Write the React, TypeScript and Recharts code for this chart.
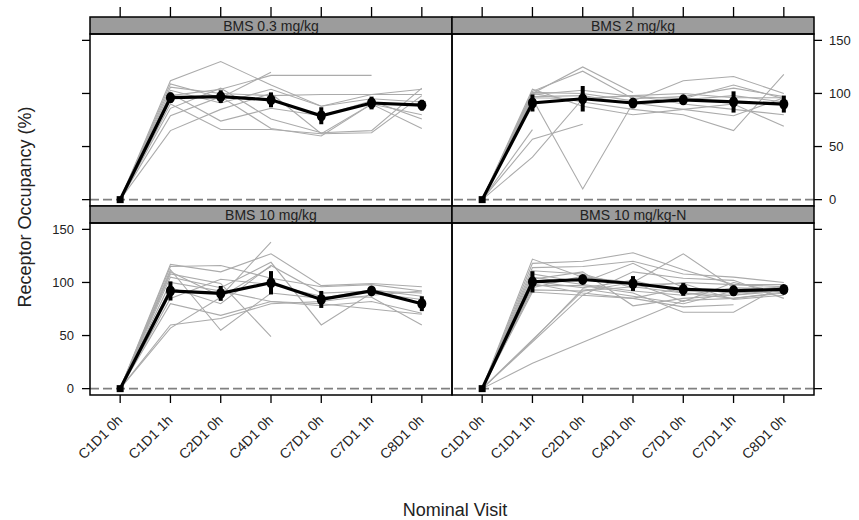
import React from "react";
import { LineChart, Line, XAxis, YAxis, ReferenceLine, ErrorBar } from "recharts";

const visits = ["C1D1 0h", "C1D1 1h", "C2D1 0h", "C4D1 0h", "C7D1 0h", "C7D1 1h", "C8D1 0h"];
const yTicks = [0, 50, 100, 150];
const panelTitles = ["BMS 0.3 mg/kg", "BMS 2 mg/kg", "BMS 10 mg/kg", "BMS 10 mg/kg-N"];

type V = number | null;

// individual subjects, one array per subject (null = not sampled)
const subjects03: V[][] = [
  [0, 112, 130, 108, 88, 99, 99],
  [0, 109, 96, 120, null, null, null],
  [0, 98, 104, 117, 117, 117, null],
  [0, 106, 100, 98, 99, 99, 104],
  [0, 103, 91, 104, 88, 95, 92],
  [0, 100, 74, 86, 79, 93, 76],
  [0, 86, 105, 76, 63, 65, 105],
  [0, 79, 97, 67, 60, 90, 67],
  [0, 65, 85, 100, 62, 63, 98],
  [0, 90, 66, 66, 62, 90, 80],
];
const mean03 = [0, 96, 97, 94, 79, 91, 89];
const err03 = [0, 5, 6, 7, 8, 6, 5];

const subjects2: V[][] = [
  [0, 100, 125, 101, null, null, null],
  [0, 102, 121, 95, 97, 105, 97],
  [0, 101, 100, 93, 112, 116, 100],
  [0, 99, 103, 97, 95, 108, 95],
  [0, 97, 98, 90, 94, 98, 92],
  [0, 95, 10, 91, 85, 79, 96],
  [0, 66, null, null, null, null, null],
  [0, 57, 71, null, null, null, null],
  [0, 40, 95, 98, 90, 85, 80],
  [0, 100, 92, 85, 80, 65, 118],
  [0, 104, 88, 80, 85, 90, 69],
  [0, 96, 95, 98, 100, 96, 96],
];
const mean2 = [0, 91, 95, 91, 94, 92, 90];
const err2 = [0, 8, 12, 3, 4, 10, 8];

const subjects10: V[][] = [
  [0, 110, 87, 138, null, null, null],
  [0, 117, 110, 127, 97, 99, 96],
  [0, 115, 116, 104, 96, 98, 92],
  [0, 112, 55, 90, 85, 93, 87],
  [0, 108, 99, 49, null, null, null],
  [0, 105, 95, 119, 60, 90, 84],
  [0, 100, 92, 82, 78, 82, 71],
  [0, 95, 80, 116, 90, 92, 90],
  [0, 85, 103, 98, 87, 86, 60],
  [0, 80, 69, 82, 80, 75, 70],
  [0, 60, 66, 80, 82, 88, 92],
  [0, 57, 86, 115, null, null, null],
];
const mean10 = [0, 92, 89.7, 99.7, 84, 92, 80];
const err10 = [0, 9, 7, 11, 8, 3, 7];

const subjects10N: V[][] = [
  [0, 122, 105, 100, 127, 95, 94],
  [0, 118, 120, 128, 112, 98, 98],
  [0, 114, 115, 120, 108, 105, 100],
  [0, 111, 108, 95, 100, 98, 96],
  [0, 108, 100, 118, 95, 90, 93],
  [0, 105, 98, 92, 88, 95, 92],
  [0, 103, 110, 78, 85, 88, 94],
  [0, 101, 95, 102, 90, 85, 91],
  [0, 99, 90, 85, 77, 79, null],
  [0, 97, 97, 90, 72, 72, 98],
  [0, 95, 106, 98, 99, 84, 88],
  [0, 93, 92, 100, 82, 100, 90],
  [0, 91, 88, 110, 104, 102, 85],
  [0, null, 92, 96, 90, 88, 92],
  [0, null, 88, 85, 95, 90, 94],
  [0, 45, 94, 87, 80, 92, 96],
  [0, 24, null, null, 83, 85, 90],
];
const mean10N = [0, 100.6, 102.8, 99, 93.4, 92.2, 93.4];
const err10N = [0, 10, 4, 7, 6, 5, 3];

const FONT = '"Liberation Sans", Arial, Helvetica, sans-serif';
const PANEL_W = 362;
const PLOT_H = 172;
const STRIP_H = 17;
const colX = [90, 452];
const rowTop = [17, 206];
const PAD = 60; // room for y axis on each side of the plot
const TOP_ROOM = 12;

const panels = [
  { title: panelTitles[0], subjects: subjects03, mean: mean03, err: err03, col: 0, row: 0 },
  { title: panelTitles[1], subjects: subjects2, mean: mean2, err: err2, col: 1, row: 0 },
  { title: panelTitles[2], subjects: subjects10, mean: mean10, err: err10, col: 0, row: 1 },
  { title: panelTitles[3], subjects: subjects10N, mean: mean10N, err: err10N, col: 1, row: 1 },
];

function buildRows(subjects: V[][], mean: number[], err: number[]) {
  return visits.map((_, i) => {
    const row: Record<string, V> = { x: i + 1, mean: mean[i], err: err[i] };
    subjects.forEach((s, k) => {
      row["s" + k] = s[i];
    });
    return row;
  });
}

function MeanDot(props: any) {
  const { cx, cy, index } = props;
  if (cx == null || cy == null) return null;
  if (index === 0) return <rect x={cx - 3.5} y={cy - 3.5} width={7} height={7} fill="#000" />;
  return <ellipse cx={cx} cy={cy} rx={4.5} ry={5.5} fill="#000" />;
}

const plotTop = TOP_ROOM + STRIP_H;
const plotBottom = plotTop + PLOT_H;

function Panel({ p }: { p: (typeof panels)[number] }) {
  const data = buildRows(p.subjects, p.mean, p.err);
  const isLeft = p.col === 0;
  const isTop = p.row === 0;
  const showYLabels = (isLeft && !isTop) || (!isLeft && isTop);
  const width = PANEL_W + PAD * 2;
  const height = TOP_ROOM + STRIP_H + PLOT_H + 80;

  const yTick = (props: any) => {
    const { y, payload } = props;
    if (isLeft) {
      return (
        <g>
          <line x1={PAD - 8} x2={PAD} y1={y} y2={y} stroke="#000" strokeWidth={1.3} />
          {showYLabels && (
            <text x={PAD - 16} y={y} dy="0.35em" textAnchor="end" fontSize={13} fill="#222" fontFamily={FONT}>
              {payload.value}
            </text>
          )}
        </g>
      );
    }
    const r = PAD + PANEL_W;
    return (
      <g>
        <line x1={r} x2={r + 8} y1={y} y2={y} stroke="#000" strokeWidth={1.3} />
        {showYLabels && (
          <text x={r + 15} y={y} dy="0.35em" textAnchor="start" fontSize={13} fill="#222" fontFamily={FONT}>
            {payload.value}
          </text>
        )}
      </g>
    );
  };

  const xTick = (props: any) => {
    const { x, payload } = props;
    if (isTop) {
      return <line x1={x} x2={x} y1={2} y2={TOP_ROOM} stroke="#000" strokeWidth={1.3} />;
    }
    const lx = x + 3;
    const ly = plotBottom + 26;
    return (
      <g>
        <line x1={x} x2={x} y1={plotBottom} y2={plotBottom + 8} stroke="#000" strokeWidth={1.3} />
        <text
          x={lx}
          y={ly}
          textAnchor="end"
          transform={`rotate(-45 ${lx} ${ly})`}
          fontSize={14}
          fill="#222"
          fontFamily={FONT}
        >
          {visits[payload.value - 1]}
        </text>
      </g>
    );
  };

  return (
    <div
      style={{
        position: "absolute",
        left: colX[p.col] - PAD,
        top: rowTop[p.row] - TOP_ROOM,
        width,
        height,
      }}
    >
      <LineChart
        width={width}
        height={height}
        data={data}
        margin={{
          top: isTop ? 0 : plotTop,
          bottom: isTop ? height - plotBottom : 0,
          left: isLeft ? 0 : PAD,
          right: isLeft ? PAD : 0,
        }}
      >
        <XAxis
          dataKey="x"
          type="number"
          domain={[0.4, 7.6]}
          ticks={[1, 2, 3, 4, 5, 6, 7]}
          allowDataOverflow
          orientation={isTop ? "top" : "bottom"}
          height={isTop ? plotTop : height - plotBottom}
          axisLine={false}
          tickLine={false}
          tick={xTick}
          interval={0}
        />
        <YAxis
          type="number"
          domain={[-6, 156]}
          ticks={yTicks}
          allowDataOverflow
          orientation={isLeft ? "left" : "right"}
          width={PAD}
          axisLine={false}
          tickLine={false}
          tick={yTick}
          interval={0}
        />
        <ReferenceLine y={0} stroke="#808080" strokeDasharray="9 4" strokeWidth={1.6} />
        {p.subjects.map((_, k) => (
          <Line
            key={k}
            dataKey={"s" + k}
            stroke="#ababab"
            strokeWidth={1.1}
            dot={false}
            connectNulls
            isAnimationActive={false}
          />
        ))}
        <Line
          dataKey="mean"
          stroke="#000"
          strokeWidth={3.2}
          dot={MeanDot}
          isAnimationActive={false}
        >
          <ErrorBar dataKey="err" width={0} strokeWidth={4} stroke="#000" direction="y" isAnimationActive={false} />
        </Line>
      </LineChart>
    </div>
  );
}

export default function App() {
  return (
    <div style={{ position: "absolute", left: 0, top: 0, width: 859, height: 520, background: "#fff" }}>
      {panels.map((p) => (
        <Panel key={p.title} p={p} />
      ))}
      <svg
        width={859}
        height={520}
        style={{ position: "absolute", left: 0, top: 0, pointerEvents: "none" }}
      >
        {panels.map((p) => {
          const x = colX[p.col];
          const y = rowTop[p.row];
          return (
            <g key={p.title}>
              <rect x={x} y={y} width={PANEL_W} height={STRIP_H} fill="#9c9c9c" stroke="#000" strokeWidth={1.5} />
              <text
                x={x + PANEL_W / 2}
                y={y + STRIP_H / 2}
                dy="0.36em"
                textAnchor="middle"
                fontSize={14}
                fill="#222"
                fontFamily={FONT}
              >
                {p.title}
              </text>
              <rect x={x} y={y + STRIP_H} width={PANEL_W} height={PLOT_H} fill="none" stroke="#000" strokeWidth={1.5} />
            </g>
          );
        })}
        <text
          x={25}
          y={207}
          dy="0.35em"
          textAnchor="middle"
          transform="rotate(-90 25 207)"
          fontSize={18}
          fill="#222"
          fontFamily={FONT}
        >
          Receptor Occupancy (%)
        </text>
        <text x={455} y={516} textAnchor="middle" fontSize={18} fill="#222" fontFamily={FONT}>
          Nominal Visit
        </text>
      </svg>
    </div>
  );
}
